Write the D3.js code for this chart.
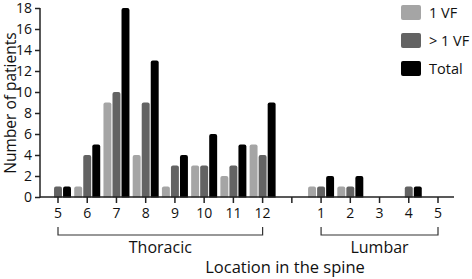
<!DOCTYPE html>
<meta charset="utf-8">
<style>
  body { margin: 0; background: #fff; }
  text { font-family: "Open Sans", sans-serif; fill: #111; }
</style>
<script src="https://cdn.jsdelivr.net/npm/d3@7"></script>
<div id="chart"></div>
<script>

// data
var thoracic = ["5", "6", "7", "8", "9", "10", "11", "12"];
var lumbar = ["1", "2", "3", "4", "5"];
var series = ["1 VF", "> 1 VF", "Total"];
var oneVF   = [0, 1, 9, 4, 1, 3, 2, 5,   1, 1, 0, 0, 0];
var moreVF  = [1, 4, 10, 9, 3, 3, 3, 4,  1, 1, 0, 1, 0];
var total   = [1, 5, 18, 13, 4, 6, 5, 9, 2, 2, 0, 1, 0];
var yTicks = [0, 2, 4, 6, 8, 10, 12, 14, 16, 18];
var colors = ["#a5a5a5", "#636363", "#000000"];

// x positions: 8 thoracic, one empty slot, 5 lumbar
var slots = thoracic.map(function(d, i) { return i; })
  .concat(lumbar.map(function(d, i) { return i + 9; }));

var width = 472, height = 279;
var svg = d3.select("#chart").append("svg")
  .attr("width", width).attr("height", height);

var x = d3.scaleLinear().domain([0, 13]).range([58, 438]);
var y = d3.scaleLinear().domain([0, 18]).range([197, 8]);
var inner = d3.scaleBand().domain([0, 1, 2]).range([-13, 13]).paddingInner(0.12);

// bars
var bars = [];
[oneVF, moreVF, total].forEach(function(vals, s) {
  vals.forEach(function(v, i) {
    if (v > 0) bars.push({s: s, slot: slots[i], v: v});
  });
});
svg.append("g").selectAll("rect")
  .data(bars)
  .enter().append("rect")
    .attr("x", function(d) { return x(d.slot) + inner(d.s); })
    .attr("y", function(d) { return y(d.v); })
    .attr("width", inner.bandwidth())
    .attr("height", function(d) { return y(0) - y(d.v) + 3; })
    .attr("rx", 2)
    .attr("fill", function(d) { return colors[d.s]; });

// white cover under baseline for the rounded bottoms
svg.append("rect").attr("x", 40).attr("y", y(0) + 0.5).attr("width", 420).attr("height", 4).attr("fill", "#fff");

// x axis
var xAxis = svg.append("g").attr("transform", "translate(0," + y(0) + ")");
xAxis.append("line").attr("x1", 40).attr("x2", 454).attr("stroke", "#222").attr("stroke-width", 1.5);
xAxis.selectAll("line.tick").data(d3.range(14)).enter().append("line")
  .attr("x1", function(d) { return x(d); }).attr("x2", function(d) { return x(d); })
  .attr("y1", 0).attr("y2", 6).attr("stroke", "#222").attr("stroke-width", 1.5);
var labels = thoracic.map(function(d, i) { return {t: d, p: i}; })
  .concat(lumbar.map(function(d, i) { return {t: d, p: i + 9}; }));
xAxis.selectAll("text").data(labels).enter().append("text")
  .attr("x", function(d) { return x(d.p); }).attr("y", 21)
  .attr("text-anchor", "middle").style("font-size", "14px")
  .text(function(d) { return d.t; });

// y axis
var yAxis = svg.append("g").attr("transform", "translate(40,0)")
  .call(d3.axisLeft(y).tickValues(yTicks).tickSize(5).tickPadding(3));
yAxis.select(".domain").attr("stroke", "#222").attr("stroke-width", 1.5)
  .attr("d", "M0," + (y(0) + 0.75) + "V" + y(18));
yAxis.selectAll(".tick line").attr("stroke", "#222").attr("stroke-width", 1.5);
yAxis.selectAll(".tick text").style("font-size", "14px").style("font-family", "Open Sans").attr("fill", "#111");

// brackets
function bracket(a, b, label) {
  var g = svg.append("g");
  g.append("path")
    .attr("d", "M" + x(a) + ",227V235H" + x(b) + "V227")
    .attr("fill", "none").attr("stroke", "#333").attr("stroke-width", 1.2);
  g.append("text").attr("x", (x(a) + x(b)) / 2).attr("y", 253)
    .attr("text-anchor", "middle").style("font-size", "16px").text(label);
}
bracket(0, 7, "Thoracic");
bracket(9, 13, "Lumbar");

// axis titles
svg.append("text").attr("x", 285).attr("y", 273).attr("text-anchor", "middle")
  .style("font-size", "16.5px").text("Location in the spine");
svg.append("text").attr("transform", "translate(16,103) rotate(-90)")
  .attr("text-anchor", "middle").style("font-size", "15.5px").text("Number of patients");

// legend
var legend = svg.append("g").selectAll("g").data(series).enter().append("g")
  .attr("transform", function(d, i) { return "translate(401," + (5 + i * 28) + ")"; });
legend.append("rect").attr("width", 20).attr("height", 15).attr("rx", 2)
  .attr("fill", function(d, i) { return colors[i]; });
legend.append("text").attr("x", 28).attr("y", 13).style("font-size", "14.5px")
  .text(function(d) { return d; });

</script>
